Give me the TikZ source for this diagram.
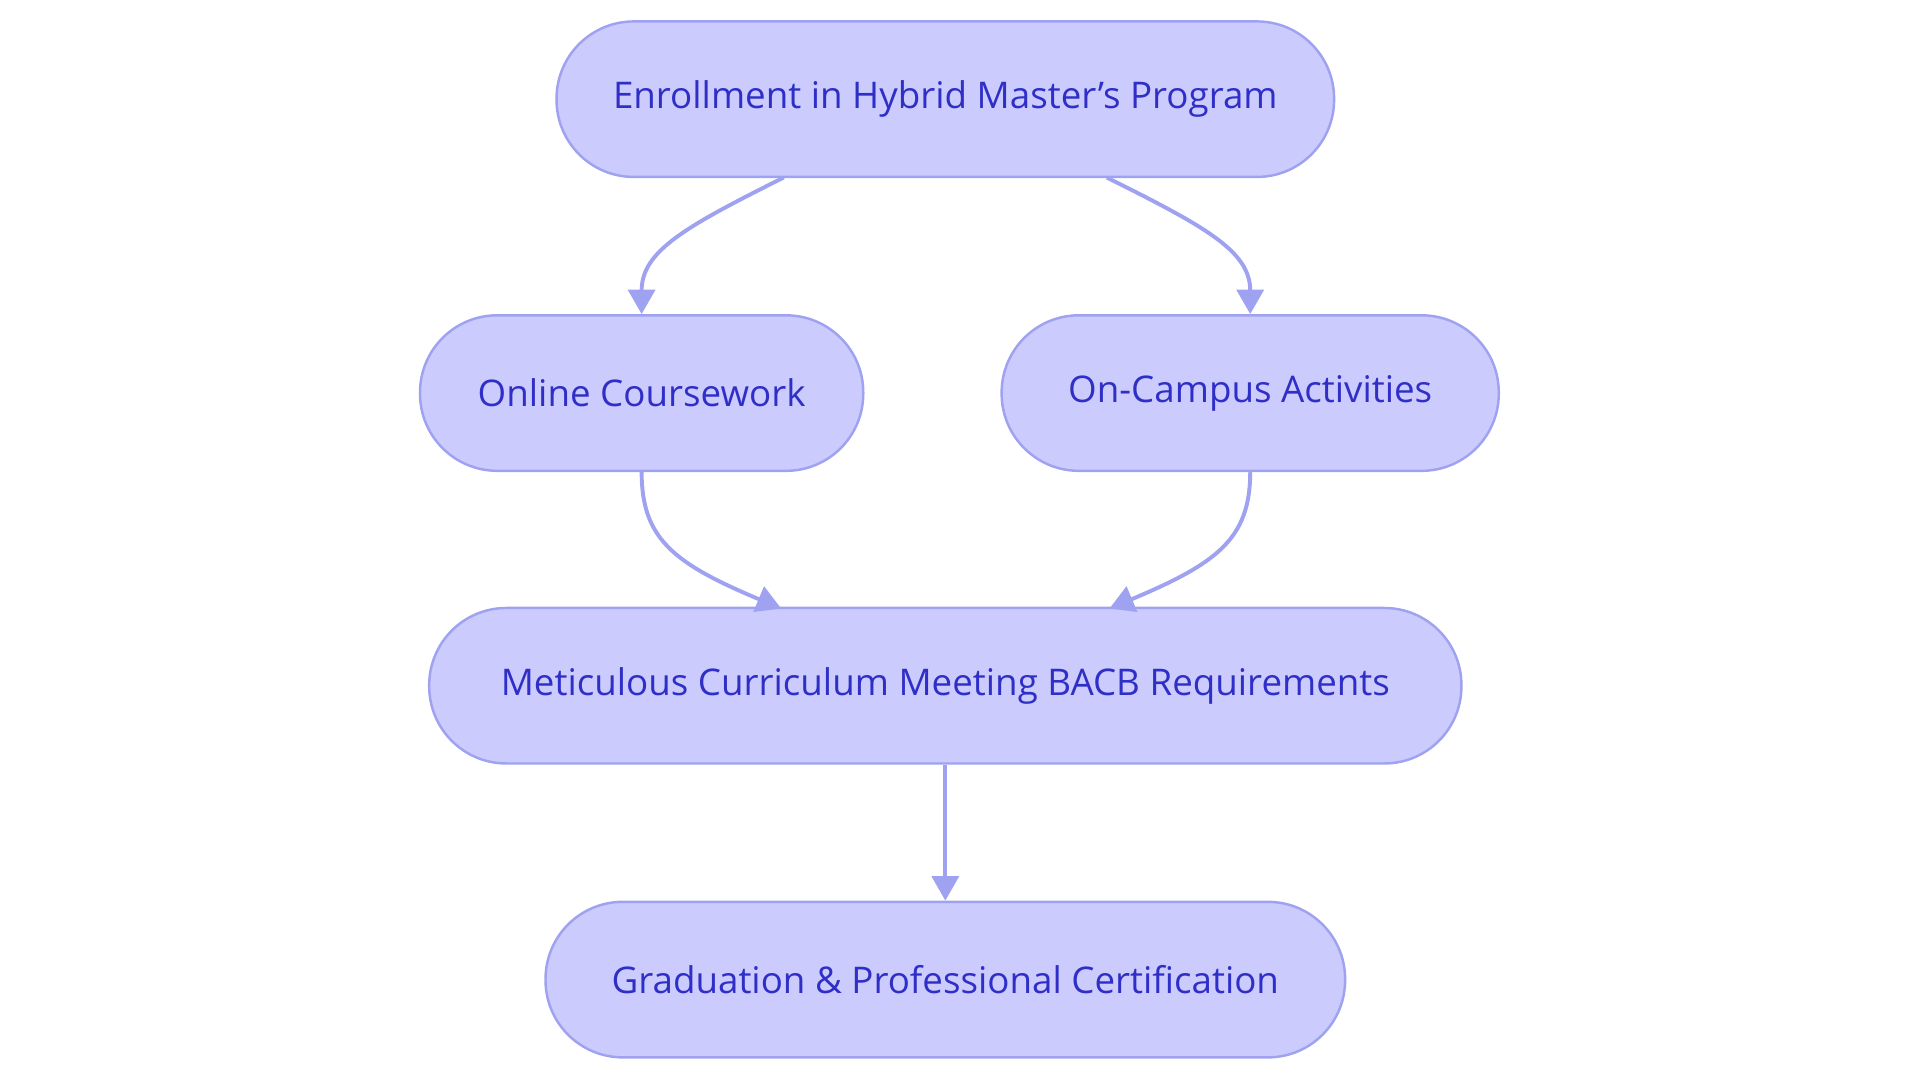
\documentclass[tikz,border=0pt]{standalone}
\usepackage{fontspec}
\setmainfont{Open Sans}
\usetikzlibrary{arrows.meta}
\definecolor{fillc}{HTML}{CBCBFD}
\definecolor{linec}{HTML}{9EA2F0}
\definecolor{textc}{HTML}{2F2FC8}
\tikzset{
  box/.style={draw=linec, line width=1pt, fill=fillc, rounded corners=31.5pt, minimum height=63.5pt, text=textc, font=\fontsize{15}{18}\selectfont, inner sep=0pt},
  conn/.style={draw=linec, line width=1.6pt, -{Triangle[length=10pt,width=11pt]}}
}
\begin{document}
\begin{tikzpicture}[x=0.5pt,y=-0.5pt]
\useasboundingbox (0,0) rectangle (1568,884);
\node[box, minimum width=317.5pt] (a) at (772,81) {Enrollment in Hybrid Master’s Program};
\node[box, minimum width=181pt] (b) at (524,321) {Online Coursework};
\node[box, minimum width=203pt] (c) at (1021,321) {On-Campus Activities};
\node[box, minimum width=421.5pt] (d) at (772,560) {Meticulous Curriculum Meeting BACB Requirements};
\node[box, minimum width=326.5pt] (e) at (772,800) {Graduation \& Professional Certification};
\coordinate (a1) at (640,145); \coordinate (a2) at (904,145);
\coordinate (d1) at (638,497); \coordinate (d2) at (906,497);
\draw[conn] (a1) .. controls (560,185) and (524,205) .. (b.north);
\draw[conn] (a2) .. controls (984,185) and (1021,205) .. (c.north);
\draw[conn] (b.south) .. controls (524,440) and (550,460) .. (d1);
\draw[conn] (c.south) .. controls (1021,440) and (994,460) .. (d2);
\draw[conn] (d) -- (e);
\end{tikzpicture}
\end{document}
